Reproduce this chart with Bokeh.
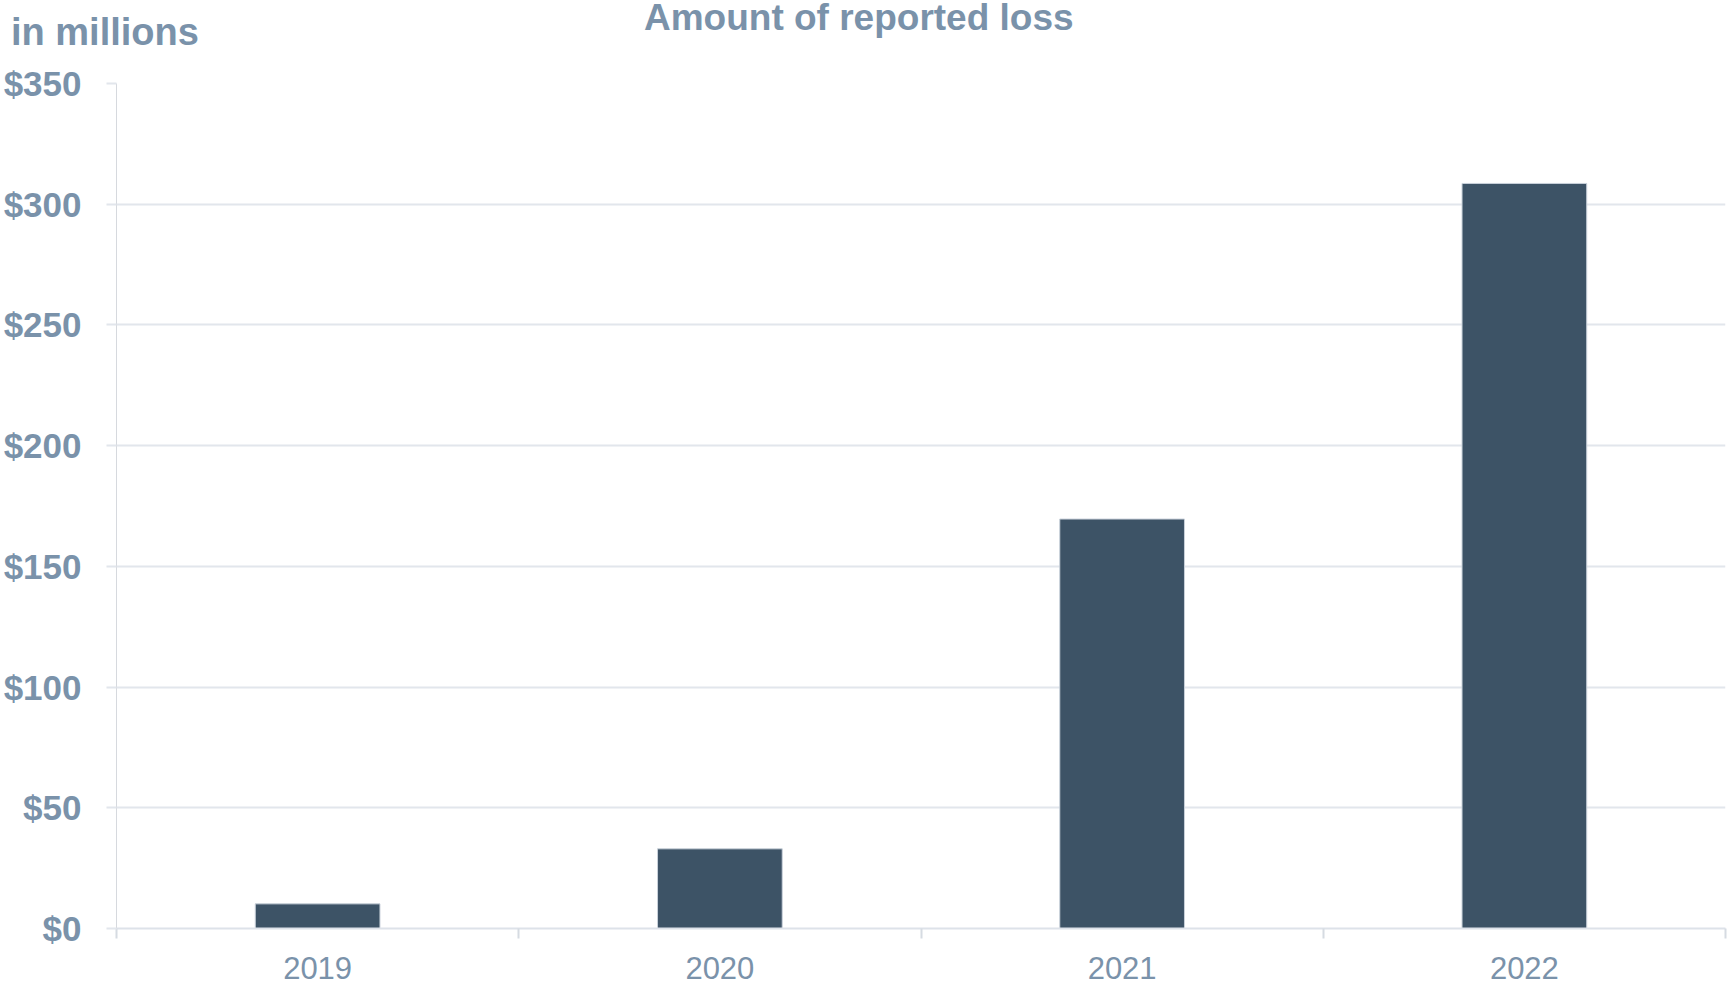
from bokeh.plotting import figure
from bokeh.models import FixedTicker, Range1d, Div
from bokeh.embed import file_html
from bokeh.resources import INLINE

# Data
years = ["2019", "2020", "2021", "2022"]
losses = [10.2, 33.0, 169.6, 308.6]          # in millions of dollars
y_ticks = [0, 50, 100, 150, 200, 250, 300, 350]
y_tick_labels = ["$0", "$50", "$100", "$150", "$200", "$250", "$300", "$350"]
title_text = "Amount of reported loss"
unit_text = "in millions"

LABEL_COLOR = "#7a92aa"
BAR_COLOR = "#3d5366"
GRID_COLOR = "#e2e6ec"
FONT = "Liberation Sans"

positions = list(range(1, len(years) + 1))
boundaries = [i + 0.5 for i in range(0, len(years) + 1)]

W, H = 1727, 984
BL, BR, BT, BB = 116, 2, 83, 56

p = figure(width=W, height=H, x_range=Range1d(0.5, len(years) + 0.5),
           y_range=Range1d(0, 350), output_backend="svg", toolbar_location=None,
           min_border_left=BL, min_border_right=BR, min_border_top=BT,
           min_border_bottom=BB)
p.outline_line_color = None
p.background_fill_color = "white"
p.border_fill_color = "white"

p.vbar(x=positions, top=losses, width=0.31, fill_color=BAR_COLOR,
       line_color="#c9d1da", line_width=1)

# grids
p.xgrid.grid_line_color = None
p.ygrid.ticker = FixedTicker(ticks=y_ticks)
p.ygrid.grid_line_color = GRID_COLOR
p.ygrid.grid_line_width = 2

# y axis
ya = p.yaxis[0]
ya.ticker = FixedTicker(ticks=y_ticks)
ya.major_label_overrides = {t: l for t, l in zip(y_ticks, y_tick_labels)}
ya.major_label_text_font = FONT
ya.major_label_text_font_style = "bold"
ya.major_label_text_font_size = "35px"
ya.major_label_text_color = LABEL_COLOR
ya.major_label_standoff = 25
ya.major_tick_in = 0
ya.major_tick_out = 10
ya.major_tick_line_color = GRID_COLOR
ya.major_tick_line_width = 2
ya.minor_tick_line_color = None
ya.axis_line_color = "#d6d9de"
ya.axis_line_width = 1

# x axis
xa = p.xaxis[0]
xa.ticker = FixedTicker(ticks=positions, minor_ticks=boundaries)
xa.major_label_overrides = {pos: y for pos, y in zip(positions, years)}
xa.major_label_text_font = FONT
xa.major_label_text_font_size = "31px"
xa.major_label_text_color = LABEL_COLOR
xa.major_label_standoff = 18
xa.major_tick_in = 0
xa.major_tick_out = 0
xa.major_tick_line_color = None
xa.minor_tick_in = 0
xa.minor_tick_out = 10
xa.minor_tick_line_color = "#d6dbe2"
xa.minor_tick_line_width = 2
xa.axis_line_color = "#dde2e9"
xa.axis_line_width = 2


def text_div(text, left, top, size):
    return Div(text=text, styles={
        "position": "absolute", "left": f"{left}px", "top": f"{top}px",
        "font-family": FONT, "font-weight": "bold", "font-size": f"{size}px",
        "line-height": f"{size}px", "color": LABEL_COLOR,
        "white-space": "nowrap", "z-index": "10", "margin": "0",
    })


unit_div = text_div(unit_text, 11, 13, 38)
title_div = text_div(title_text, 644, -1, 37)

open("out.html", "w").write(file_html([p, unit_div, title_div], INLINE))
